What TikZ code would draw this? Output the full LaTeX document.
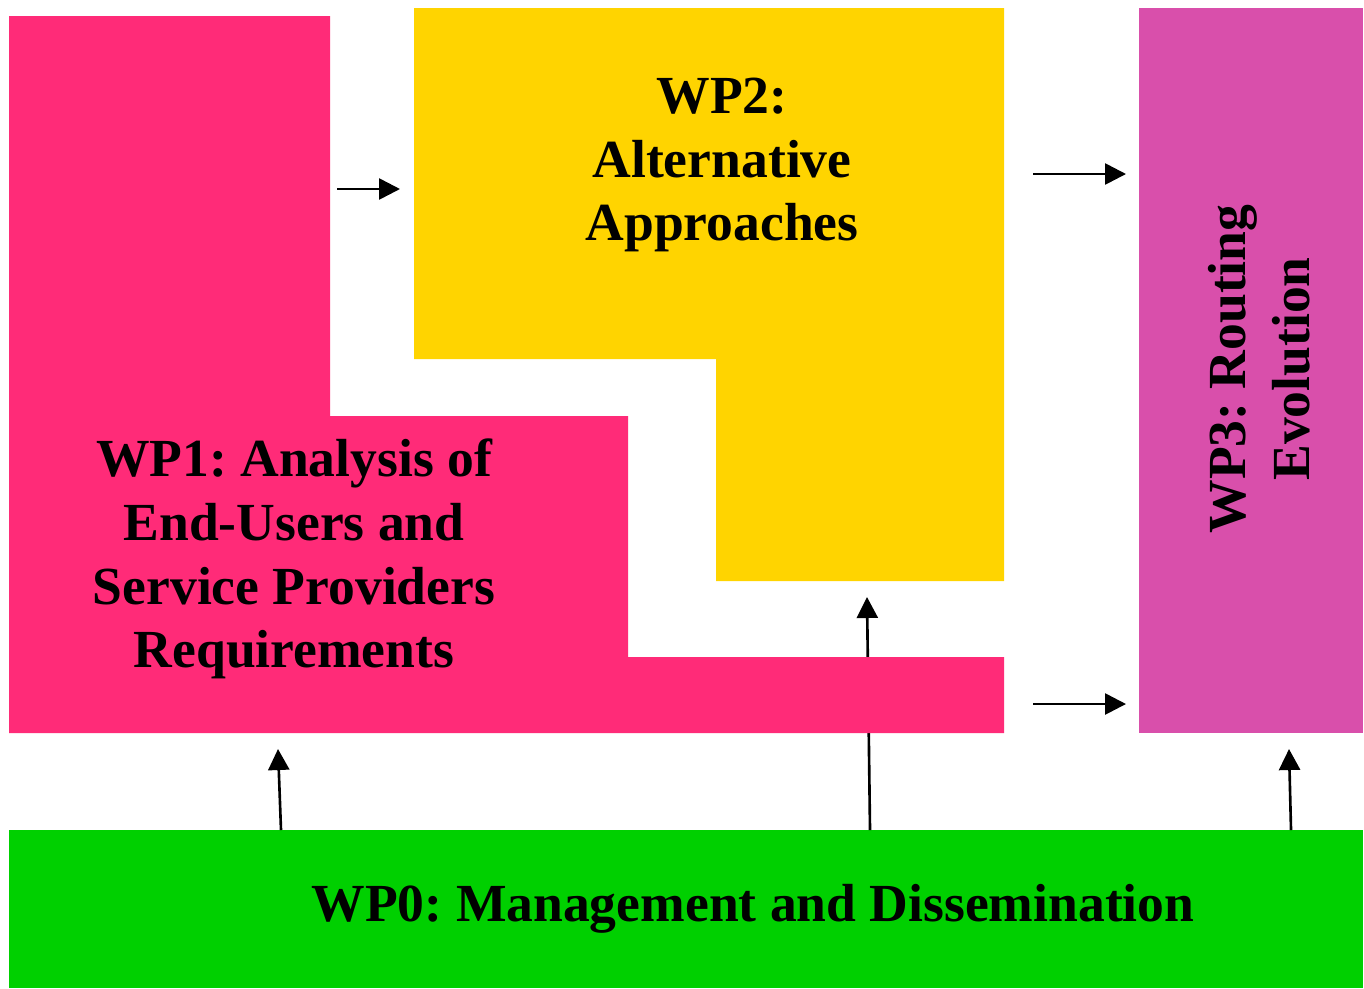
\documentclass[tikz,border=0pt]{standalone}
\usepackage{fontspec}
\setmainfont{Liberation Serif}
\usetikzlibrary{positioning,arrows.meta}

\definecolor{wppink}{RGB}{255,43,120}
\definecolor{wpyellow}{RGB}{255,212,0}
\definecolor{wpmagenta}{RGB}{217,79,171}
\definecolor{wpgreen}{RGB}{0,208,0}

\tikzset{
  wplabel/.style={align=center, font=\fontsize{30.5}{36.3}\selectfont\bfseries\frenchspacing},
  wpbox/.style={anchor=north west, inner sep=0pt},
  flow/.style={->, line width=1.5pt}
}

\begin{document}
\begin{tikzpicture}[x=0.02cm, y=-0.02cm, >={Triangle[length=0.42cm,width=0.42cm]}]
  \useasboundingbox (0,0) rectangle (1364,988);

  \node (WP0) [wpbox, fill=wpgreen, minimum width=27.08cm, minimum height=3.16cm] at (9,830) {};
  \node (WP3) [wpbox, fill=wpmagenta, minimum width=4.48cm, minimum height=14.5cm] at (1139,8) {};

  % WP0 -> WP2 runs under the WP1 block
  \coordinate (up2s) at (870,830);
  \coordinate (up2e) at (867,597);
  \draw[flow] (up2s) -- (up2e);

  \fill[wppink] (9,16) -- (330,16) -- (330,416) -- (628,416) -- (628,657)
    -- (1004,657) -- (1004,733) -- (9,733) -- cycle;
  \fill[wpyellow] (414,8) -- (1004,8) -- (1004,581) -- (716,581) -- (716,359)
    -- (414,359) -- cycle;

  \node (WP1) [wplabel] at (294,559) {WP1: Analysis of\\End-Users and\\Service Providers\\Requirements};
  \node (WP2) [wplabel] at (722,165) {WP2:\\Alternative\\Approaches};
  \node (WP3t) [wplabel, rotate=90] at (1259,369) {WP3: Routing\\Evolution};
  \node (WP0t) [wplabel] at (753,909) {WP0: Management and Dissemination};

  \coordinate (r1s) at (337,189);  \coordinate (r1e) at (400,189);
  \coordinate (r2s) at (1033,174); \coordinate (r2e) at (1126,174);
  \coordinate (r3s) at (1033,704); \coordinate (r3e) at (1126,704);
  \coordinate (up1s) at (281,830); \coordinate (up1e) at (278,749);
  \coordinate (up3s) at (1291,830); \coordinate (up3e) at (1289,749);

  \path[flow]
    (r1s) edge (r1e)
    (r2s) edge (r2e)
    (r3s) edge (r3e)
    (up1s) edge (up1e)
    (up3s) edge (up3e);
\end{tikzpicture}
\end{document}
